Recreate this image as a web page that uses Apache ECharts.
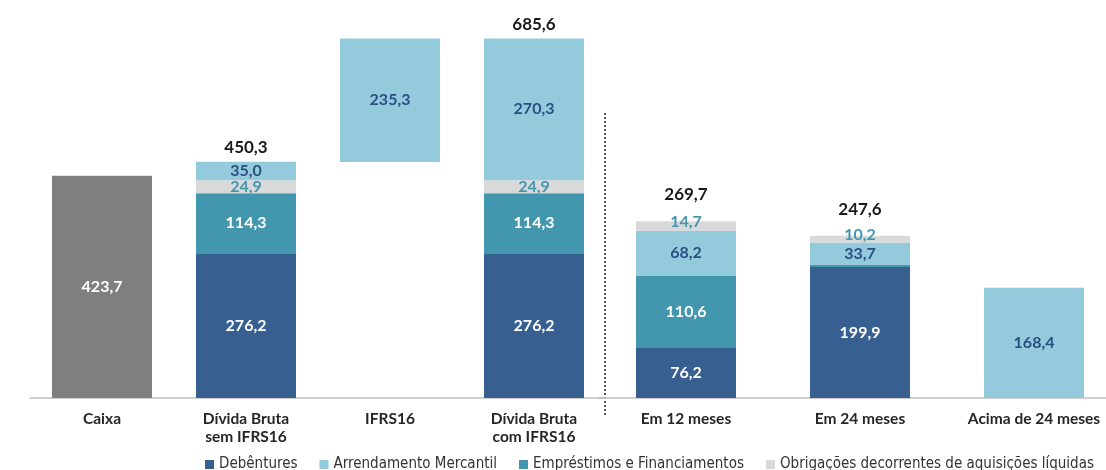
<!DOCTYPE html>
<html><head><meta charset="utf-8">
<script src="https://cdn.jsdelivr.net/npm/echarts@6/dist/echarts.min.js"></script>
<style>html,body{margin:0;padding:0;background:#fff;overflow:hidden}#c{width:1140px;height:470px}</style>
</head><body><div id="c"></div>
<script>
// Left section
const catsLeft = ['Caixa', 'Dívida Bruta\nsem IFRS16', 'IFRS16', 'Dívida Bruta\ncom IFRS16'];
const caixaLeft = [423.7, '-', '-', '-'];
const baseLeft = ['-', '-', 450.3, '-'];
const debLeft = ['-', 276.2, '-', 276.2];
const empLeft = ['-', 114.3, '-', 114.3];
const obrLeft = ['-', 24.9, '-', 24.9];
const arrLeft = ['-', 35.0, 235.3, 270.3];
const totLeft = ['-', 450.3, '-', 685.6];
// Right section
const catsRight = ['Em 12 meses', 'Em 24 meses', 'Acima de 24 meses'];
const debRight = [76.2, 199.9, '-'];
const empRight = [110.6, 3.8, '-'];
const arrRight = [68.2, 33.7, 168.4];
const obrRight = [14.7, 10.2, '-'];
const totRight = [269.7, 247.6, '-'];

const names = {
  deb: 'Debêntures', arr: 'Arrendamento Mercantil',
  emp: 'Empréstimos e Financiamentos', obr: 'Obrigações decorrentes de aquisições líquidas'
};
const colors = { deb: '#375F8F', emp: '#4297AE', arr: '#93CBDD', obr: '#D9D9D9', caixa: '#7F7F7F' };
const FONT = 'Lato';
const fmt = v => Number(v).toFixed(1).replace('.', ',');
const BW = 100;

function seg(name, data, color, labelColor, xi, extraLabel) {
  return {
    name, type: 'bar', stack: 's' + xi, xAxisIndex: xi, yAxisIndex: xi, barWidth: BW,
    data: data.map(v => (v !== '-' && v < 5) ? { value: v, label: { show: false } } : v),
    itemStyle: { color },
    label: Object.assign({
      show: true, position: 'inside', color: labelColor, fontFamily: FONT,
      fontWeight: 'bold', fontSize: 16, formatter: p => fmt(p.value)
    }, extraLabel || {})
  };
}
function totals(data, xi, dist) {
  return {
    type: 'bar', xAxisIndex: xi, yAxisIndex: xi, barWidth: BW, barGap: '-100%', silent: true,
    data, itemStyle: { color: 'rgba(0,0,0,0)' }, z: 10,
    label: { show: true, position: 'top', distance: dist, color: '#1a1a1a', fontFamily: FONT,
      fontWeight: 'bold', fontSize: 17, formatter: p => fmt(p.value) }
  };
}

const xAxisCommon = {
  type: 'category',
  axisLine: { lineStyle: { color: '#BFBFBF', width: 1.5 } },
  axisTick: { show: false },
  axisLabel: { color: '#262626', fontFamily: FONT, fontWeight: 'bold', fontSize: 15.5, lineHeight: 18, margin: 12, interval: 0 }
};

const chart = echarts.init(document.getElementById('c'));
chart.setOption({
  animation: false,
  grid: [
    { left: 30, width: 576, top: 10, bottom: 72 },
    { left: 599, width: 522, top: 10, bottom: 72 }
  ],
  xAxis: [
    Object.assign({ gridIndex: 0, data: catsLeft }, xAxisCommon),
    Object.assign({ gridIndex: 1, data: catsRight }, xAxisCommon)
  ],
  yAxis: [
    { gridIndex: 0, type: 'value', min: 0, max: 740, show: false },
    { gridIndex: 1, type: 'value', min: 0, max: 592, show: false }
  ],
  legend: {
    left: 200, top: 452, itemWidth: 9, itemHeight: 9, itemGap: 22, icon: 'rect',
    textStyle: { fontFamily: "'Liberation Sans Narrow', 'DejaVu Sans Condensed', sans-serif", fontSize: 15, color: '#333' },
    data: [names.deb, names.arr, names.emp, names.obr]
  },
  graphic: [{
    type: 'line', shape: { x1: 605, y1: 113, x2: 605, y2: 415 },
    style: { stroke: '#555', lineWidth: 2, lineDash: [2, 2] }
  }],
  series: [
    {
      name: 'Caixa', type: 'bar', stack: 's0', xAxisIndex: 0, yAxisIndex: 0, barWidth: BW,
      data: caixaLeft, itemStyle: { color: colors.caixa },
      label: { show: true, position: 'inside', color: '#fff', fontFamily: FONT, fontWeight: 'bold', fontSize: 16, formatter: p => fmt(p.value) }
    },
    {
      name: 'base', type: 'bar', stack: 's0', xAxisIndex: 0, yAxisIndex: 0, barWidth: BW, silent: true,
      data: baseLeft, itemStyle: { color: 'rgba(0,0,0,0)' }
    },
    seg(names.deb, debLeft, colors.deb, '#fff', 0),
    seg(names.emp, empLeft, colors.emp, '#fff', 0),
    seg(names.obr, obrLeft, colors.obr, '#4297AE', 0),
    seg(names.arr, arrLeft, colors.arr, '#2A4E82', 0),
    totals(totLeft, 0, 6),
    seg(names.deb, debRight, colors.deb, '#fff', 1),
    seg(names.emp, empRight, colors.emp, '#fff', 1),
    seg(names.arr, arrRight, colors.arr, '#2A4E82', 1),
    seg(names.obr, obrRight, colors.obr, '#4297AE', 1, { offset: [0, -4] }),
    totals(totRight, 1, 18)
  ]
});
</script>
</body></html>
